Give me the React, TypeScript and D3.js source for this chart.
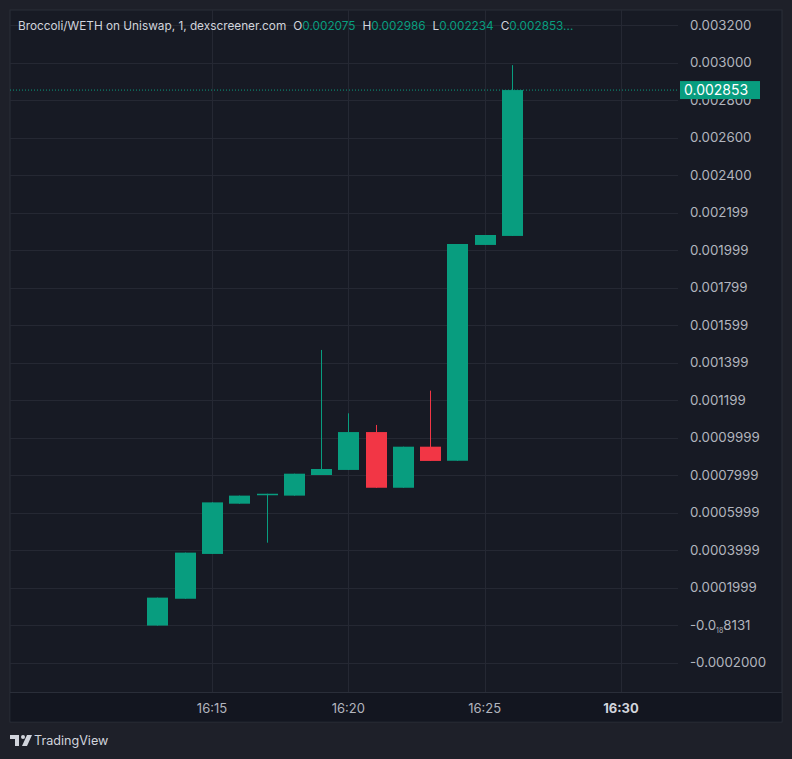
import * as d3 from "d3";

// minutes after 16:00
const minutes = [13, 14, 15, 16, 17, 18, 19, 20, 21, 22, 23, 24, 25, 26];
const opens = [-0.000003, 0.00014, 0.000379, 0.000647, 0.000697, 0.00069, 0.0008, 0.000827, 0.001029, 0.000732, 0.000951, 0.000876, 0.002027, 0.002075];
const closes = [0.000146, 0.000386, 0.000654, 0.00069, 0.0007, 0.000807, 0.000832, 0.001029, 0.000732, 0.000951, 0.000875, 0.002032, 0.00208, 0.002853];
const highs = [0.000146, 0.000386, 0.000654, 0.00069, 0.0007, 0.000807, 0.001467, 0.001129, 0.001067, 0.000951, 0.00125, 0.002032, 0.00208, 0.002986];
const lows = [-0.000003, 0.00014, 0.000379, 0.000647, 0.000439, 0.00069, 0.0008, 0.000827, 0.000732, 0.000732, 0.000875, 0.000876, 0.002027, 0.002075];

const priceTicks = [0.0032, 0.003, 0.0028, 0.0026, 0.0024, 0.0022, 0.002, 0.0018, 0.0016, 0.0014, 0.0012, 0.001, 0.0008, 0.0006, 0.0004, 0.0002, 0, -0.0002];
const priceLabels = ["0.003200", "0.003000", "0.002800", "0.002600", "0.002400", "0.002199", "0.001999", "0.001799", "0.001599", "0.001399", "0.001199", "0.0009999", "0.0007999", "0.0005999", "0.0003999", "0.0001999", "-0.0|18|8131", "-0.0002000"];
const timeTicks = [15, 20, 25, 30];
const timeLabels = ["16:15", "16:20", "16:25", "16:30"];

const header = [
  { k: "O", v: "0.002075" },
  { k: "H", v: "0.002986" },
  { k: "L", v: "0.002234" },
  { k: "C", v: "0.002853..." },
];
const lastPrice = 0.002853;

const W = 792;
const H = 759;
const UP = "#089d7f";
const DOWN = "#f23645";
const FONT = "Inter, 'Noto Sans', sans-serif";

export default function App() {
  const x = d3.scaleLinear().domain([15, 30]).range([212, 621]);
  const y = d3.scaleLinear().domain([0, 0.0032]).range([625, 25]);
  const plot = { left: 10, right: 678, top: 10, bottom: 692 };
  const bodyW = 21;
  const yLast = y(lastPrice);

  return (
    <svg width={W} height={H} style={{ position: "absolute", left: 0, top: 0, fontFamily: FONT }}>
      <rect width={W} height={H} fill="#1e2029" />
      <rect x={10} y={10} width={772} height={712} fill="#171a24" stroke="#2a2e39" />
      <rect x={10.5} y={plot.bottom} width={771} height={29.5} fill="#131620" />
      <line x1={10} x2={782} y1={plot.bottom + 0.5} y2={plot.bottom + 0.5} stroke="#2a2e39" />

      {/* grid */}
      {priceTicks.map((t) => (
        <line key={t} x1={plot.left} x2={plot.right} y1={Math.round(y(t)) + 0.5} y2={Math.round(y(t)) + 0.5} stroke="#252833" />
      ))}
      {timeTicks.map((t) => (
        <line key={t} x1={Math.round(x(t)) + 0.5} x2={Math.round(x(t)) + 0.5} y1={plot.top} y2={plot.bottom} stroke="#252833" />
      ))}

      {/* candles */}
      {minutes.map((m, i) => {
        const up = closes[i] >= opens[i];
        const c = up ? UP : DOWN;
        const cx = Math.round(x(m));
        const top = y(Math.max(opens[i], closes[i]));
        const bot = y(Math.min(opens[i], closes[i]));
        return (
          <g key={m}>
            <line x1={cx + 0.5} x2={cx + 0.5} y1={y(highs[i])} y2={y(lows[i])} stroke={c} strokeWidth={1} />
            <rect x={cx + 0.5 - bodyW / 2} y={top} width={bodyW} height={Math.max(1.5, bot - top)} fill={c} />
          </g>
        );
      })}

      {/* last price line */}
      <line x1={plot.left} x2={plot.right} y1={yLast} y2={yLast} stroke={UP} strokeDasharray="1 2" />

      {/* price axis labels */}
      {priceTicks.map((t, i) => {
        const lab = priceLabels[i];
        const parts = lab.split("|");
        return (
          <text key={t} x={690} y={y(t)} dy="0.35em" fill="#b2b5be" fontSize={13.3}>
            {parts.length === 3 ? (
              <>
                {parts[0]}
                <tspan fontSize={7} dy="3">{parts[1]}</tspan>
                <tspan dy="-3">{parts[2]}</tspan>
              </>
            ) : (
              lab
            )}
          </text>
        );
      })}
      <rect x={680} y={yLast - 9} width={80} height={18} fill={UP} />
      <text x={684} y={yLast} dy="0.35em" fill="#ffffff" fontSize={14}>
        {lastPrice.toFixed(6)}
      </text>

      {/* time axis labels */}
      {timeTicks.map((t, i) => (
        <text
          key={t}
          x={x(t)}
          y={708}
          dy="0.35em"
          textAnchor="middle"
          fill={i === timeTicks.length - 1 ? "#d1d4dc" : "#b2b5be"}
          fontWeight={i === timeTicks.length - 1 ? 700 : 400}
          fontSize={13}
        >
          {timeLabels[i]}
        </text>
      ))}

      {/* header legend */}
      <text x={18} y={26} dy="0.35em" fontSize={11.8} fill="#d1d4dc">
        Broccoli/WETH on Uniswap, 1, dexscreener.com
        {header.map((h) => (
          <tspan key={h.k}>
            <tspan dx={7} fill="#d1d4dc">{h.k}</tspan>
            <tspan fill={UP}>{h.v}</tspan>
          </tspan>
        ))}
      </text>

      {/* TradingView mark */}
      <g fill="#d1d4dc" transform="translate(10,735)">
        <path d="M0 0 H9 V11 H5 V4 H0 Z" />
        <circle cx={13} cy={2} r={2} />
        <path d="M17 0 H22 L17 11 H12 Z" />
      </g>
      <text x={34} y={741} dy="0.35em" fontSize={12.6} fill="#d1d4dc">
        TradingView
      </text>
    </svg>
  );
}
